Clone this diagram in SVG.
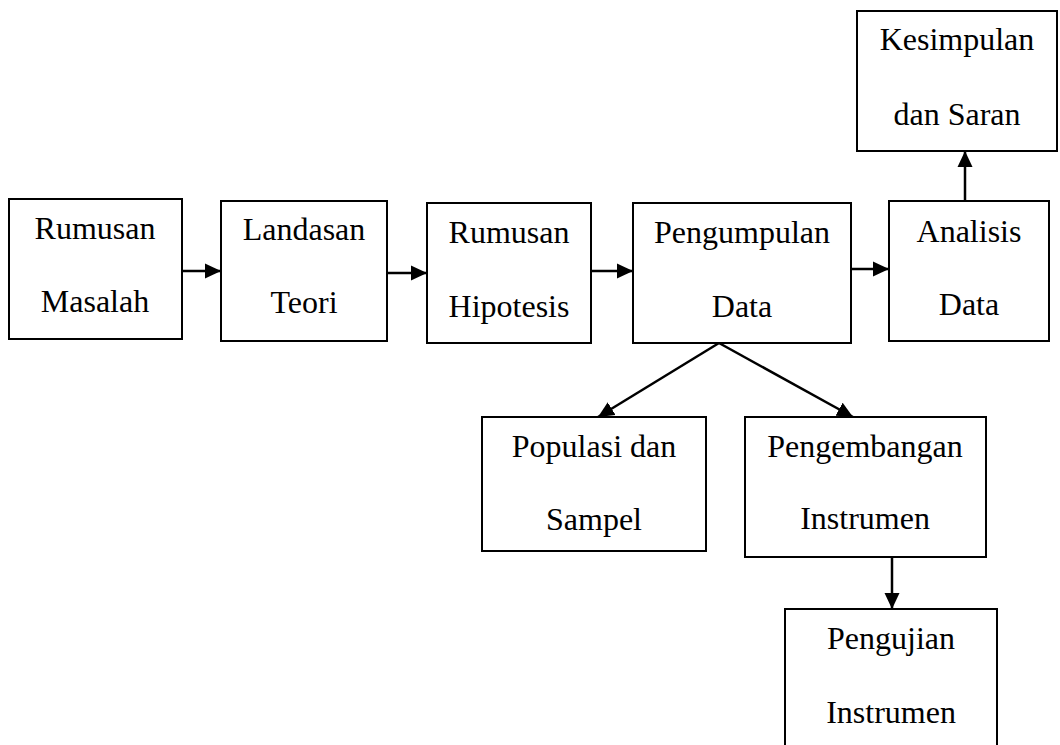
<svg xmlns="http://www.w3.org/2000/svg" width="1060" height="745" viewBox="0 0 1060 745">
<style>
.box{fill:#fff;stroke:#000;stroke-width:2}
.t{font-family:"Liberation Serif","Times New Roman",serif;font-size:32px;fill:#000;text-anchor:middle}
.c{stroke:#000;stroke-width:2.5;fill:none;marker-end:url(#ah)}
</style>
<defs>
<marker id="ah" markerUnits="userSpaceOnUse" markerWidth="16" markerHeight="16" viewBox="0 0 16 16" refX="16" refY="8" orient="auto">
<path d="M0,0.5 L16,8 L0,15.5 Z" fill="#000"/>
</marker>
</defs>
<rect width="1060" height="745" fill="#fff"/>
<g id="connectors">
<line class="c" x1="182" y1="271" x2="221" y2="271"/>
<line class="c" x1="387" y1="273" x2="427" y2="273"/>
<line class="c" x1="591" y1="271" x2="633" y2="271"/>
<line class="c" x1="849" y1="269" x2="889" y2="269"/>
<line class="c" x1="965" y1="201" x2="965" y2="151"/>
<line class="c" x1="719" y1="343" x2="598" y2="417"/>
<line class="c" x1="719" y1="343" x2="853" y2="417"/>
<line class="c" x1="892" y1="557" x2="892" y2="609"/>
</g>
<g id="n1"><rect class="box" x="9" y="199" width="173" height="140"/><text class="t" x="95" y="239">Rumusan</text><text class="t" x="95" y="312">Masalah</text></g>
<g id="n2"><rect class="box" x="221" y="201" width="166" height="140"/><text class="t" x="304" y="240">Landasan</text><text class="t" x="304" y="313">Teori</text></g>
<g id="n3"><rect class="box" x="427" y="203" width="164" height="140"/><text class="t" x="509" y="243">Rumusan</text><text class="t" x="509" y="317">Hipotesis</text></g>
<g id="n4"><rect class="box" x="633" y="203" width="218" height="140"/><text class="t" x="742" y="243">Pengumpulan</text><text class="t" x="742" y="317">Data</text></g>
<g id="n5"><rect class="box" x="889" y="201" width="160" height="140"/><text class="t" x="969" y="242">Analisis</text><text class="t" x="969" y="315">Data</text></g>
<g id="n6"><rect class="box" x="857" y="11" width="200" height="140"/><text class="t" x="957" y="50">Kesimpulan</text><text class="t" x="957" y="125">dan Saran</text></g>
<g id="n7"><rect class="box" x="482" y="417" width="224" height="134"/><text class="t" x="594" y="457">Populasi dan</text><text class="t" x="594" y="530">Sampel</text></g>
<g id="n8"><rect class="box" x="745" y="417" width="241" height="140"/><text class="t" x="865" y="457">Pengembangan</text><text class="t" x="865" y="529">Instrumen</text></g>
<g id="n9"><rect class="box" x="785" y="609" width="212" height="160"/><text class="t" x="891" y="649">Pengujian</text><text class="t" x="891" y="723">Instrumen</text></g>
</svg>
